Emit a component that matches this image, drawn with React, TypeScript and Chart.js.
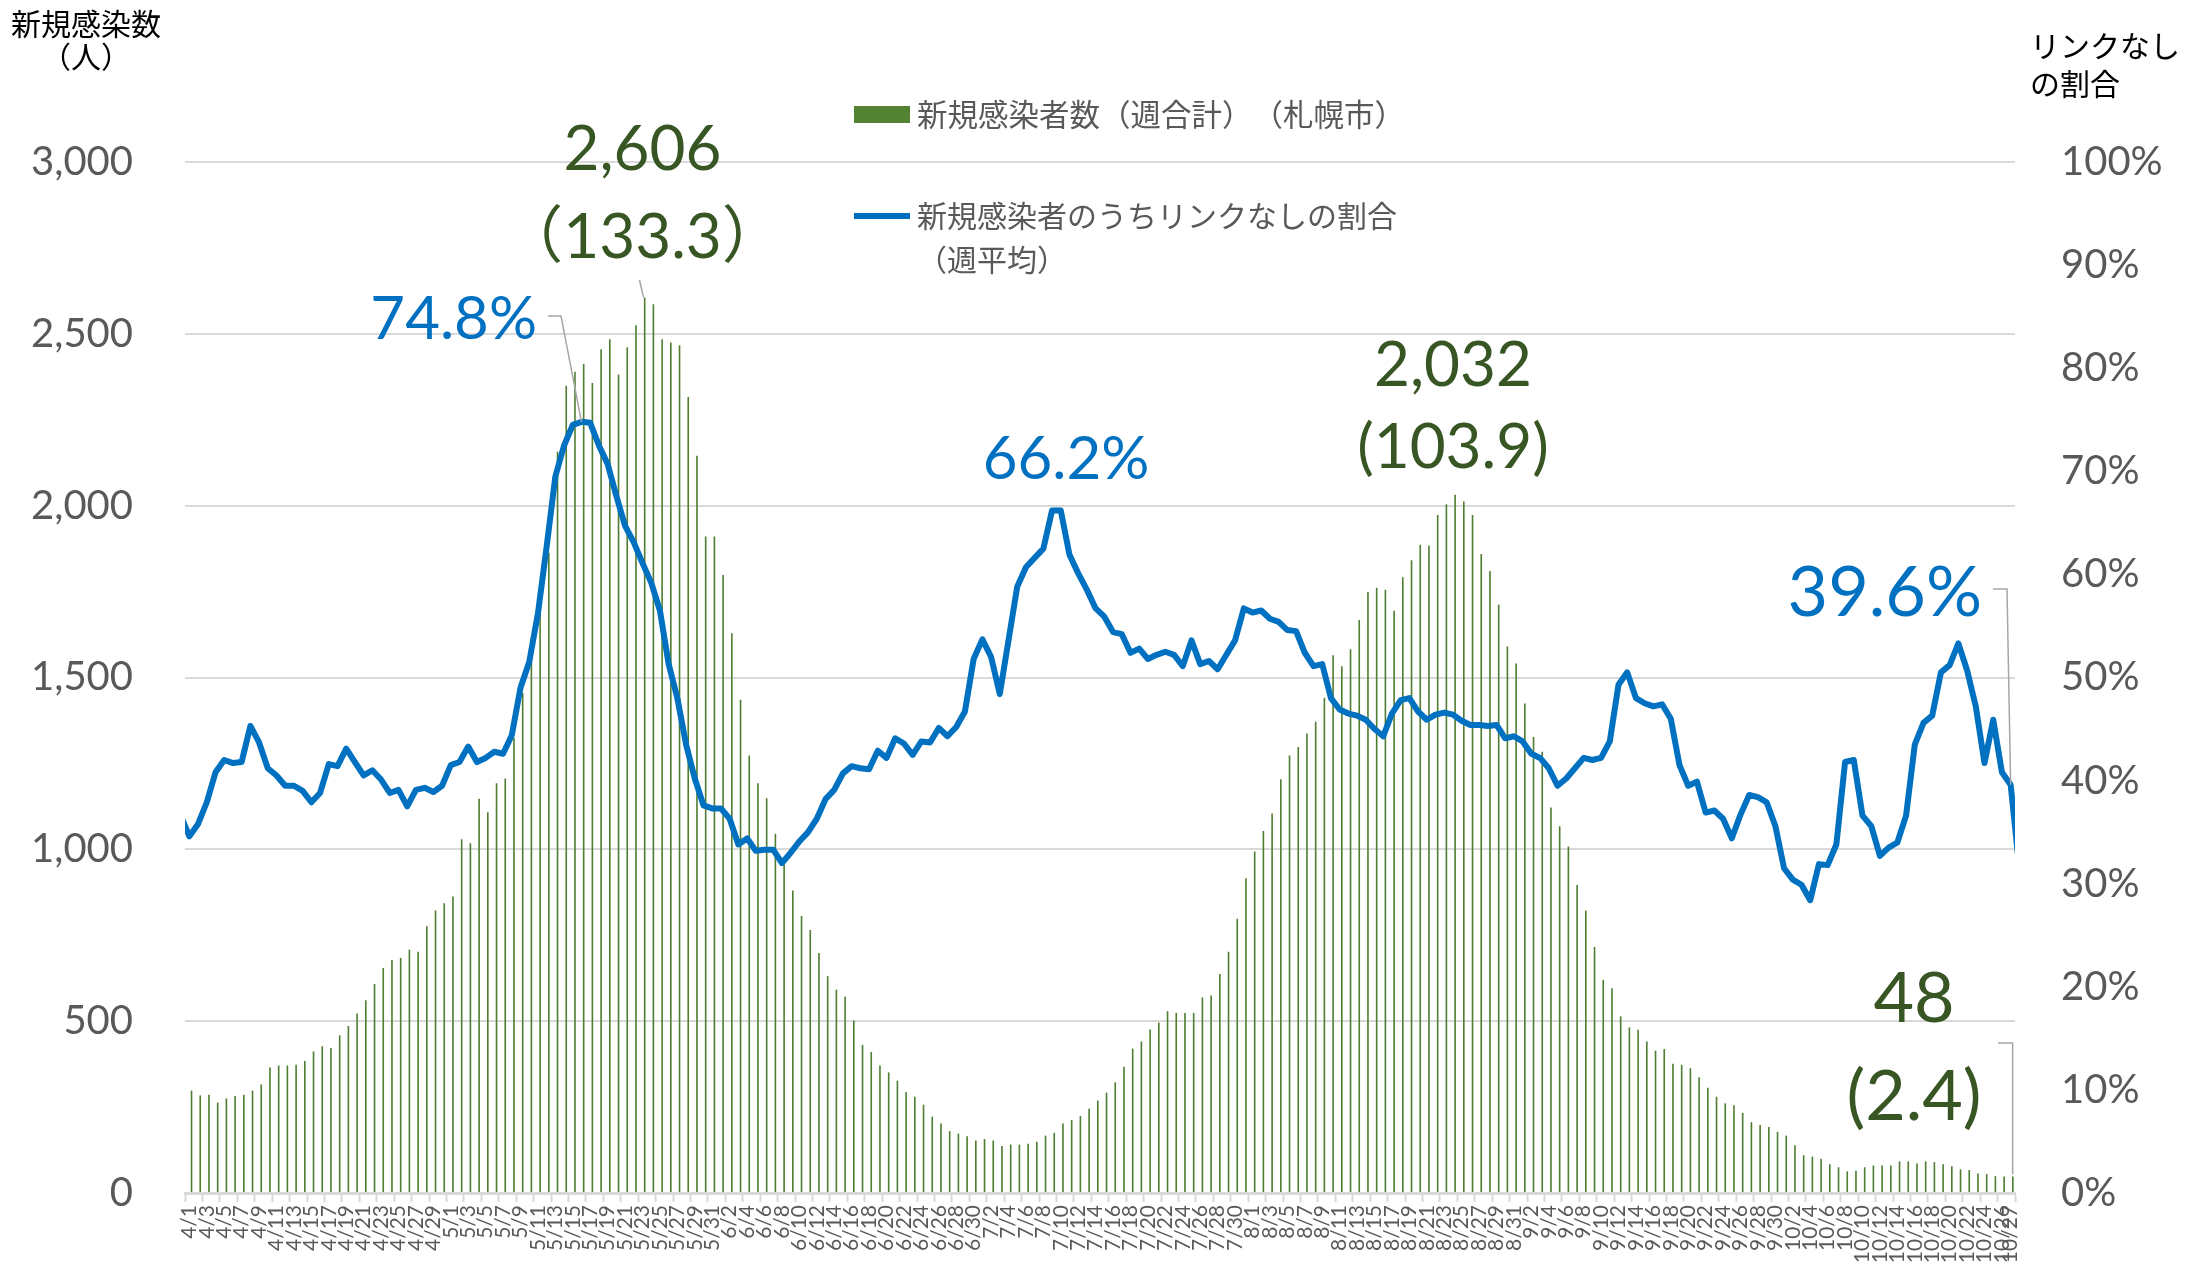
import React, { useEffect, useRef } from 'react';
import { Chart, registerables } from 'chart.js';

Chart.register(...registerables);

// ---- categories: daily dates 4/1 .. 10/27 ----
const monthSpans: [number, number, number][] = [
  [4, 1, 30], [5, 1, 31], [6, 1, 30], [7, 1, 31], [8, 1, 31], [9, 1, 30], [10, 1, 27],
];
const dateLabels: string[] = [];
for (const [m, s, e] of monthSpans) for (let d = s; d <= e; d++) dateLabels.push(`${m}/${d}`);

// ---- bar series: weekly new infections (Sapporo), 4/1 .. 10/27 ----
const weeklyCases: number[] = [
  298, 284, 286, 263, 275, 282, 286, 298, 316, 365,
  371, 371, 373, 384, 412, 427, 422, 459, 486, 522,
  561, 608, 655, 678, 684, 708, 702, 776, 822, 843,
  863, 1029, 1018, 1147, 1108, 1192, 1206, 1325, 1455, 1615,
  1740, 1863, 2157, 2349, 2390, 2412, 2357, 2455, 2484, 2382,
  2461, 2525, 2606, 2586, 2484, 2475, 2467, 2316, 2145, 1910,
  1910, 1798, 1629, 1435, 1273, 1192, 1149, 1045, 965, 880,
  806, 765, 698, 631, 592, 571, 502, 431, 410, 371,
  351, 327, 294, 280, 257, 222, 202, 180, 173, 165,
  153, 157, 153, 137, 141, 141, 143, 149, 167, 175,
  202, 212, 224, 245, 269, 292, 322, 367, 420, 441,
  476, 496, 529, 524, 524, 524, 569, 575, 637, 702,
  798, 916, 994, 1053, 1104, 1204, 1273, 1298, 1337, 1371,
  1441, 1565, 1533, 1582, 1667, 1749, 1761, 1755, 1694, 1792,
  1841, 1886, 1884, 1973, 2004, 2032, 2012, 1973, 1859, 1810,
  1712, 1590, 1541, 1424, 1327, 1284, 1122, 1067, 1008, 896,
  822, 716, 620, 596, 514, 482, 475, 441, 414, 419,
  376, 373, 363, 337, 306, 280, 261, 255, 233, 206,
  198, 192, 178, 167, 139, 110, 106, 100, 84, 75,
  63, 65, 75, 80, 80, 80, 92, 92, 86, 92,
  90, 84, 78, 69, 67, 57, 55, 49, 48, 48,
];

// ---- line series: share of unlinked cases (weekly avg, %), 3/31 .. 10/28 ----
// (first and last values lie just outside the plotted range and are clipped)
const unlinkedShare: number[] = [
  36.6,
  34.6, 35.8, 37.9, 40.8, 42.0, 41.7, 41.8, 45.3, 43.7, 41.2,
  40.5, 39.5, 39.5, 39.0, 37.9, 38.8, 41.6, 41.4, 43.1, 41.8,
  40.5, 41.0, 40.1, 38.8, 39.1, 37.5, 39.1, 39.3, 38.9, 39.5,
  41.5, 41.8, 43.3, 41.8, 42.2, 42.8, 42.6, 44.4, 49.0, 51.5,
  56.2, 62.7, 69.5, 72.5, 74.5, 74.8, 74.7, 72.5, 70.7, 67.6,
  64.7, 63.1, 61.1, 59.2, 56.5, 51.3, 48.0, 43.5, 40.2, 37.6,
  37.3, 37.3, 36.3, 33.8, 34.4, 33.2, 33.3, 33.3, 32.0, 33.0,
  34.1, 35.0, 36.3, 38.2, 39.1, 40.7, 41.4, 41.2, 41.1, 42.9,
  42.2, 44.1, 43.6, 42.5, 43.8, 43.7, 45.1, 44.3, 45.2, 46.7,
  51.8, 53.7, 52.0, 48.4, 53.6, 58.8, 60.7, 61.6, 62.5, 66.2,
  66.2, 61.9, 60.1, 58.5, 56.7, 55.9, 54.4, 54.2, 52.4, 52.8,
  51.8, 52.2, 52.5, 52.2, 51.1, 53.6, 51.3, 51.6, 50.8, 52.2,
  53.6, 56.7, 56.3, 56.5, 55.7, 55.4, 54.6, 54.5, 52.4, 51.1,
  51.3, 48.0, 46.9, 46.5, 46.3, 45.9, 45.0, 44.3, 46.5, 47.8,
  48.0, 46.7, 45.9, 46.4, 46.6, 46.4, 45.8, 45.4, 45.4, 45.3,
  45.4, 44.1, 44.3, 43.8, 42.6, 42.2, 41.2, 39.5, 40.2, 41.2,
  42.2, 42.0, 42.2, 43.8, 49.3, 50.5, 48.0, 47.5, 47.2, 47.4,
  46.0, 41.5, 39.5, 39.9, 36.9, 37.1, 36.3, 34.4, 36.7, 38.6,
  38.4, 37.9, 35.6, 31.5, 30.4, 29.9, 28.4, 31.9, 31.8, 33.8,
  41.8, 42.0, 36.6, 35.6, 32.7, 33.5, 34.0, 36.6, 43.5, 45.6,
  46.3, 50.5, 51.2, 53.3, 50.7, 47.2, 41.7, 45.9, 40.8, 39.6,
  31.5,
];

const leftTicks = [0, 500, 1000, 1500, 2000, 2500, 3000];
const rightTicks = [0, 10, 20, 30, 40, 50, 60, 70, 80, 90, 100];

const NUM = 'Lato, "Noto Sans CJK JP", sans-serif';
const JP = '"Noto Sans CJK JP", sans-serif';
const GREEN = '#548235';
const DARKGREEN = '#375623';
const BLUE = '#0070C0';
const GRAY = '#595959';
const GRID = '#D9D9D9';
const LEADER = '#A6A6A6';

function txt(ctx: CanvasRenderingContext2D, s: string, x: number, y: number, size: number,
  color: string, align: CanvasTextAlign = 'center', family: string = NUM) {
  ctx.font = `${size}px ${family}`;
  ctx.fillStyle = color;
  ctx.textAlign = align;
  ctx.textBaseline = 'middle';
  ctx.fillText(s, x, y);
}

// full-width (one em per character) layout for Japanese text
function gridText(ctx: CanvasRenderingContext2D, s: string, x: number, y: number, size: number, color: string) {
  ctx.font = `${size}px ${JP}`;
  ctx.fillStyle = color;
  ctx.textBaseline = 'middle';
  Array.from(s).forEach((ch, i) => {
    const cell = x + i * size;
    if (ch === '（') {
      ctx.textAlign = 'right';
      ctx.fillText(ch, cell + size, y);
    } else if (ch === '）') {
      ctx.textAlign = 'left';
      ctx.fillText(ch, cell, y);
    } else {
      ctx.textAlign = 'center';
      ctx.fillText(ch, cell + size / 2, y);
    }
  });
}

function poly(ctx: CanvasRenderingContext2D, pts: number[][]) {
  ctx.beginPath();
  ctx.moveTo(pts[0][0], pts[0][1]);
  for (let i = 1; i < pts.length; i++) ctx.lineTo(pts[i][0], pts[i][1]);
  ctx.strokeStyle = LEADER;
  ctx.lineWidth = 1.5;
  ctx.stroke();
}

const overlayPlugin = {
  id: 'overlay',
  afterDraw(chart: any) {
    const ctx: CanvasRenderingContext2D = chart.ctx;
    const xs = chart.scales.x;
    const x2 = chart.scales.x2;
    const ys = chart.scales.y;
    const y1 = chart.scales.y1;
    ctx.save();

    // axis titles
    txt(ctx, '新規感染数', 86, 24, 30, '#000', 'center', JP);
    gridText(ctx, '（人）', 41, 57, 30, '#000');
    txt(ctx, 'リンクなし', 2030, 46, 30, '#000', 'left', JP);
    txt(ctx, 'の割合', 2030, 84, 30, '#000', 'left', JP);

    // legend
    ctx.fillStyle = GREEN;
    ctx.fillRect(854, 106, 56, 17);
    gridText(ctx, '新規感染者数（週合計）（札幌市）', 917, 114, 30.5, GRAY);
    ctx.beginPath();
    ctx.moveTo(854, 216);
    ctx.lineTo(910, 216);
    ctx.strokeStyle = BLUE;
    ctx.lineWidth = 6;
    ctx.stroke();
    gridText(ctx, '新規感染者のうちリンクなしの割合', 917, 216, 30, GRAY);
    gridText(ctx, '（週平均）', 917, 260, 30, GRAY);

    // peak of bars (5/23)
    const bx1 = xs.getPixelForValue(52);
    const by1 = ys.getPixelForValue(weeklyCases[52]);
    txt(ctx, '2,606', bx1, 150, 62, DARKGREEN);
    txt(ctx, '（133.3）', bx1, 238, 62, DARKGREEN);
    poly(ctx, [[bx1 - 3, 280], [bx1 + 1, by1]]);

    // peak of line (5/16)
    const lx1 = x2.getPixelForValue(45);
    const ly1 = y1.getPixelForValue(unlinkedShare[46]);
    txt(ctx, '74.8%', 537, 320, 60, BLUE, 'right');
    poly(ctx, [[548, 316], [561, 316], [lx1, ly1]]);

    // second line peak
    txt(ctx, '66.2%', 1066, 460, 60, BLUE);

    // second bar peak (8/24)
    const bx2 = xs.getPixelForValue(145);
    txt(ctx, '2,032', bx2, 366, 62, DARKGREEN);
    txt(ctx, '(103.9)', bx2, 448, 62, DARKGREEN);

    // latest values (10/27)
    const last = weeklyCases.length - 1;
    const lx2 = x2.getPixelForValue(last);
    const ly2 = y1.getPixelForValue(unlinkedShare[last + 1]);
    txt(ctx, '39.6%', 1982, 593, 70, BLUE, 'right');
    poly(ctx, [[1993, 589], [2007, 589], [lx2, ly2]]);

    const bx3 = xs.getPixelForValue(last);
    const by3 = ys.getPixelForValue(weeklyCases[last]);
    txt(ctx, '48', 1914, 999, 70, DARKGREEN);
    txt(ctx, '(2.4)', 1914, 1097, 70, DARKGREEN);
    poly(ctx, [[1998, 1043], [bx3 + 2, 1043], [bx3 + 2, by3 - 2]]);

    ctx.restore();
  },
};

export default function App() {
  const ref = useRef<HTMLCanvasElement | null>(null);

  useEffect(() => {
    if (!ref.current) return;
    const linePoints = unlinkedShare.map((v, i) => ({ x: i - 1, y: v }));
    const chart = new Chart(ref.current, {
      type: 'bar',
      data: {
        labels: dateLabels,
        datasets: [
          {
            type: 'line',
            label: '新規感染者のうちリンクなしの割合（週平均）',
            data: linePoints as any,
            xAxisID: 'x2',
            yAxisID: 'y1',
            borderColor: BLUE,
            borderWidth: 6,
            pointRadius: 0,
            tension: 0,
            borderJoinStyle: 'round',
            order: 0,
          } as any,
          {
            type: 'bar',
            label: '新規感染者数（週合計）（札幌市）',
            data: weeklyCases,
            xAxisID: 'x',
            yAxisID: 'y',
            backgroundColor: '#4F7D31',
            barPercentage: 0.37,
            categoryPercentage: 1,
            order: 1,
          },
        ],
      },
      options: {
        responsive: false,
        animation: false,
        devicePixelRatio: 1,
        layout: { padding: { top: 162, left: 0, right: 0, bottom: 0 } },
        plugins: { legend: { display: false }, tooltip: { enabled: false } },
        scales: {
          x: {
            type: 'category',
            offset: true,
            afterFit: (s: any) => { s.height = 72; },
            grid: {
              offset: true,
              drawOnChartArea: false,
              drawTicks: true,
              tickLength: 9,
              tickWidth: 2,
              color: (c: any) => (c.index === undefined || c.index % 2 === 0 ? GRID : 'rgba(0,0,0,0)'),
            },
            border: { display: true, color: GRID, width: 3 },
            ticks: {
              autoSkip: false,
              maxRotation: 90,
              minRotation: 90,
              padding: 3,
              color: GRAY,
              font: { family: NUM, size: 21 },
              callback: (_v: any, i: number) => (i % 2 === 0 || i === dateLabels.length - 1 ? dateLabels[i] : ''),
            },
          },
          x2: {
            type: 'linear',
            display: false,
            offset: false,
            grid: { offset: false },
            min: -0.5,
            max: dateLabels.length - 0.5,
          },
          y: {
            position: 'left',
            min: 0,
            max: 3000,
            afterFit: (s: any) => { s.width = 185; },
            afterBuildTicks: (s: any) => { s.ticks = leftTicks.map((v) => ({ value: v })); },
            grid: { color: GRID, lineWidth: 2, drawTicks: false },
            border: { display: false },
            ticks: {
              padding: 52,
              color: GRAY,
              font: { family: NUM, size: 40 },
              callback: (v: any) => Number(v).toLocaleString('en-US'),
            },
          },
          y1: {
            position: 'right',
            min: 0,
            max: 100,
            afterFit: (s: any) => { s.width = 173; },
            afterBuildTicks: (s: any) => { s.ticks = rightTicks.map((v) => ({ value: v })); },
            grid: { display: false, drawTicks: false },
            border: { display: false },
            ticks: {
              padding: 46,
              color: GRAY,
              font: { family: NUM, size: 40 },
              callback: (v: any) => `${v}%`,
            },
          },
        },
      },
      plugins: [overlayPlugin],
    });
    return () => chart.destroy();
  }, []);

  return (
    <div style={{ position: 'fixed', left: 0, top: 0, width: 2188, height: 1269, background: '#fff' }}>
      <canvas ref={ref} width={2188} height={1269} style={{ width: 2188, height: 1269, display: 'block' }} />
    </div>
  );
}
